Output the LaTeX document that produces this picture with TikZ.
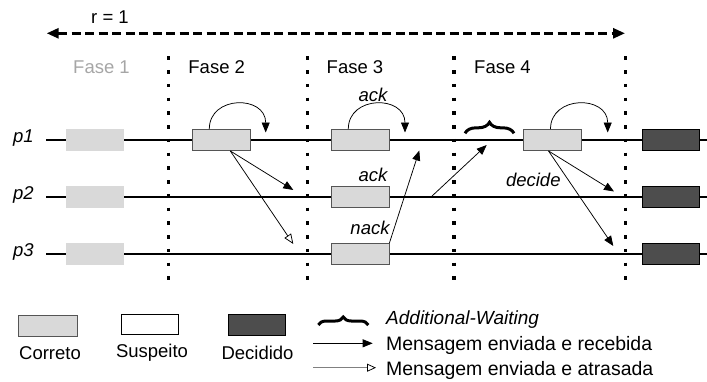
\documentclass[tikz,border=0pt]{standalone}
\usepackage{fontspec}
\setmainfont{Liberation Sans}
\usetikzlibrary{arrows.meta,decorations.pathreplacing,calc}
\definecolor{boxgray}{HTML}{D9D9D9}
\definecolor{edgegray}{HTML}{555555}
\definecolor{darkbox}{HTML}{4D4D4D}
\definecolor{fadetext}{HTML}{A6A6A6}
\definecolor{lategray}{HTML}{808080}

\begin{document}
\begin{tikzpicture}[x=1pt,y=-1pt,
  lbl/.style={font=\fontsize{18.5}{22}\selectfont, inner sep=0pt, anchor=base},
  ilbl/.style={lbl, font=\fontsize{18.5}{22}\selectfont\itshape},
  leglbl/.style={font=\fontsize{19.45}{22}\selectfont, inner sep=0pt, anchor=base west},
  pline/.style={line width=2.2pt},
  phaseline/.style={line width=3.5pt, dash pattern=on 3.5pt off 10.25pt},
  roundline/.style={line width=2.7pt, dash pattern=on 9pt off 4.5pt,
    {Triangle[length=12pt,width=10pt]}-{Triangle[length=12pt,width=10pt]}},
  startbox/.style={fill=boxgray, minimum width=58.3pt, minimum height=21.4pt, inner sep=0pt},
  okbox/.style={draw=edgegray, line width=0.9pt, fill=boxgray, minimum width=57.3pt, minimum height=21pt, inner sep=0pt},
  suspbox/.style={draw=black, line width=0.9pt, fill=white, minimum width=57pt, minimum height=20pt, inner sep=0pt},
  donebox/.style={draw=black, line width=0.9pt, fill=darkbox, minimum width=57pt, minimum height=21.5pt, inner sep=0pt},
  msg/.style={line width=0.75pt, -{Triangle[length=10pt,width=8pt]}},
  late/.style={line width=0.75pt, -{Triangle[open,length=10pt,width=8pt]}},
  waitbrace/.style={decorate, decoration={brace, amplitude=#1}, line width=3pt},
]
\useasboundingbox (0,0) rectangle (707,381);

% round marker
\node[lbl] (rlabel) at (110,23.3) {r = 1};
\coordinate (rL) at (46.7,33.3);
\coordinate (rR) at (625,33.3);
\draw[roundline] (rL) -- (rR);

% phase titles
\node[lbl, text=fadetext] (f1) at (101.5,73) {Fase 1};
\node[lbl] (f2) at (216.7,73) {Fase 2};
\node[lbl] (f3) at (355,73) {Fase 3};
\node[lbl] (f4) at (502.5,73) {Fase 4};

% process time lines
\foreach \n/\y in {1/140,2/197,3/254}{
  \node[ilbl] (p\n) at (23.3,\y+2.7) {p\n};
  \coordinate (s\n) at (46,\y);
  \coordinate (e\n) at (707,\y);
  \draw[pline] (s\n) -- (e\n);
}

% phase boundaries
\foreach \x [count=\i] in {168.3,307.3,454,625.7}{
  \coordinate (dt\i) at (\x,56.25);
  \coordinate (db\i) at (\x,279.75);
  \draw[phaseline] (dt\i) -- (db\i);
}

% phase 1 boxes
\node[startbox] (b1p1) at (94.9,140) {};
\node[startbox] (b1p2) at (94.9,197) {};
\node[startbox] (b1p3) at (94.9,254) {};

% phase 2
\node[okbox] (b2p1) at (221.3,140) {};
\coordinate (l2) at (265.7,132.5);
\draw[msg] ([xshift=-12pt]b2p1.north) .. controls +(0,-34) and (265.7,95) .. (l2);
\coordinate (m2a) at (293.3,190);
\coordinate (m2b) at (293.3,244);
\draw[msg] ([xshift=9pt]b2p1.south) -- (m2a);
\draw[late] ([xshift=9pt]b2p1.south) -- (m2b);

% phase 3
\node[okbox] (b3p1) at (360.3,140) {};
\node[okbox] (b3p2) at (360.3,197) {};
\node[okbox] (b3p3) at (360.3,254) {};
\coordinate (l3) at (405,132.5);
\draw[msg] ([xshift=-12pt]b3p1.north) .. controls +(0,-34) and (405,95) .. (l3);
\node[ilbl] (ack1) at (373,101) {ack};
\node[ilbl] (ack2) at (373,181.7) {ack};
\node[ilbl] (nack) at (370,234) {nack};
\coordinate (m3a) at (419.3,150.5);
\draw[msg] (b3p3.north east) -- (m3a);
\coordinate (m3s) at (431,197);
\coordinate (m3b) at (486.7,145);
\draw[msg] (m3s) -- (m3b);

% phase 4
\draw[waitbrace=11pt] (465,133.3) coordinate (w1) -- (514,133.3) coordinate (w2);
\node[okbox] (b4p1) at (552.5,140) {};
\coordinate (l4) at (607.7,132.5);
\draw[msg] ([xshift=-2pt]b4p1.north) .. controls +(0,-34) and (607.7,95) .. (l4);
\coordinate (m4a) at (614,191.5);
\coordinate (m4b) at (613.3,246);
\draw[msg] ([xshift=-4pt]b4p1.south) -- (m4a);
\draw[msg] ([xshift=-4pt]b4p1.south) -- (m4b);
\node[ilbl] (dec) at (533.3,186) {decide};

% decided
\node[donebox] (d1) at (670.8,140) {};
\node[donebox] (d2) at (670.8,197) {};
\node[donebox] (d3) at (670.8,254) {};

% legend
\node[okbox, minimum width=59pt] (kc) at (47.5,325.5) {};
\node[suspbox] (ks) at (149.5,324) {};
\node[donebox] (kd) at (256.5,325) {};
\node[lbl] (kct) at (50,359) {Correto};
\node[lbl] (kst) at (152,357.5) {Suspeito};
\node[lbl] (kdt) at (257.5,359) {Decidido};

\draw[waitbrace=8pt] (318.3,325) coordinate (kw1) -- (368.3,325) coordinate (kw2);
\node[leglbl, font=\fontsize{19}{22}\selectfont\itshape] (kwt) at (386,324.3) {Additional-Waiting};
\coordinate (ka1) at (313.3,343.3);
\coordinate (ka2) at (372.7,343.3);
\draw[msg] (ka1) -- (ka2);
\node[leglbl] (kat) at (386,350) {Mensagem enviada e recebida};
\coordinate (kb1) at (313.3,367.7);
\coordinate (kb2) at (376,367.7);
\draw[line width=1.2pt, draw=lategray, -{Triangle[open,length=9pt,width=8pt,color=black,line width=0.75pt]}] (kb1) -- (kb2);
\node[leglbl] (kbt) at (386,375.7) {Mensagem enviada e atrasada};
\end{tikzpicture}
\end{document}
